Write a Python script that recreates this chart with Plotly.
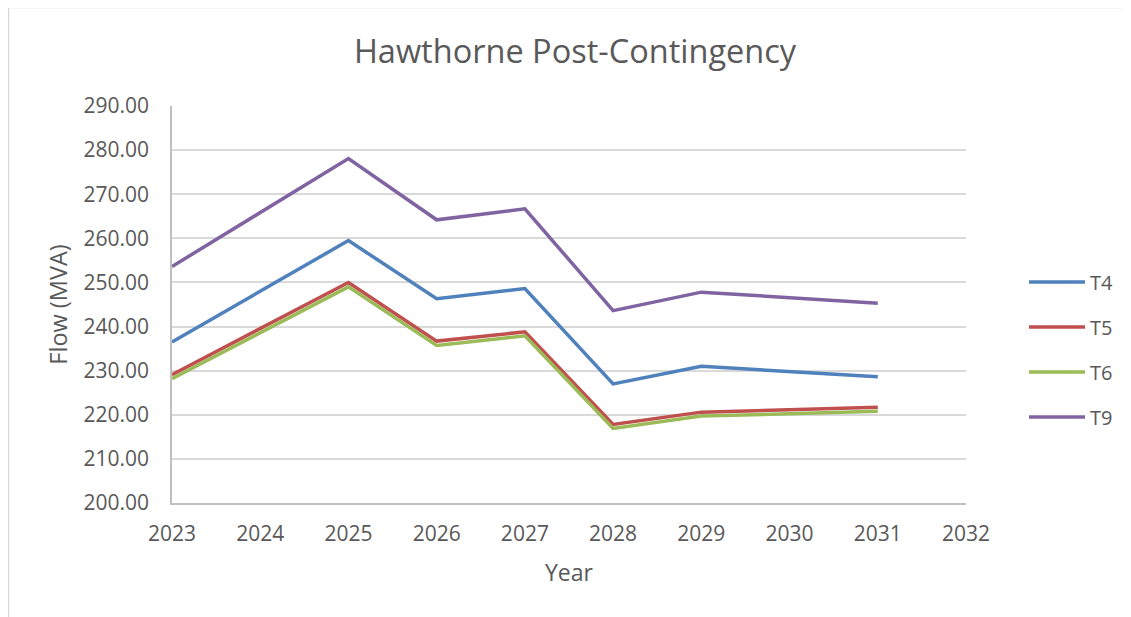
import plotly.graph_objects as go

years = [2023, 2025, 2026, 2027, 2028, 2029, 2031]
t4 = [236.5, 259.5, 246.3, 248.6, 227.0, 231.0, 228.6]
t5 = [229.1, 250.0, 236.7, 238.8, 217.8, 220.6, 221.7]
t6 = [228.2, 249.0, 235.7, 237.9, 216.9, 219.7, 220.8]
t9 = [253.6, 278.1, 264.2, 266.7, 243.6, 247.8, 245.3]

series = [("T4", t4, "#4F81BD"), ("T5", t5, "#C0504D"),
          ("T6", t6, "#9BBB59"), ("T9", t9, "#8064A2")]

FONT = "Open Sans"
GREY = "#595959"

fig = go.Figure()
for name, vals, col in series:
    fig.add_trace(go.Scatter(x=years, y=vals, name=name, mode="lines",
                             line=dict(color=col, width=3.5),
                             legendgroup=name))

# page body adds an 8px offset; work in figure coordinates
OFF = 8
W, H = 1131 - OFF, 617 - OFF
L, R, T, B = 172 - OFF, 966 - OFF, 106 - OFF, 503 - OFF

def px_x(x):
    return (x - OFF - L) / (R - L)

def px_y(y):
    return (B - (y - OFF)) / (B - T)

fig.update_layout(
    width=W, height=H,
    margin=dict(l=L, r=W - R, t=T, b=H - B),
    paper_bgcolor="white", plot_bgcolor="white",
    font=dict(family=FONT, color=GREY, size=21),
    title=dict(text="Hawthorne Post-Contingency", x=(575 - OFF) / W, xanchor="center",
               y=1 - (52 - OFF) / H, yanchor="middle", yref="container",
               font=dict(size=32.5, color=GREY, family=FONT)),
    showlegend=True,
    legend=dict(x=px_x(1024), xanchor="left", y=px_y(349.5),
                yanchor="middle", traceorder="grouped", tracegroupgap=16,
                font=dict(size=20, color=GREY, family=FONT), itemwidth=56,
                bgcolor="rgba(0,0,0,0)"),
    xaxis=dict(range=[2023, 2032], dtick=1, tick0=2023, showgrid=False,
               zeroline=False, showline=True, linecolor="#BFBFBF", linewidth=1.5,
               ticks="", tickfont=dict(size=21, color=GREY),
               ticklabelstandoff=11,
               title=dict(text="Year", font=dict(size=23, color=GREY), standoff=19)),
    yaxis=dict(range=[200, 290], dtick=10, tick0=200, tickformat=".2f",
               showgrid=True, gridcolor="#D9D9D9", gridwidth=1.5,
               zeroline=False, showline=True, linecolor="#BFBFBF", linewidth=1.5,
               ticks="", tickfont=dict(size=21, color=GREY),
               ticklabelstandoff=17,
               title=dict(text="Flow (MVA)", font=dict(size=23.5, color=GREY), standoff=9)),
    shapes=[dict(type="rect", xref="paper", yref="paper",
                 x0=px_x(8.5), x1=px_x(1160),
                 y0=px_y(660), y1=px_y(7.5),
                 line=dict(color="#D9D9D9", width=1.5), fillcolor="rgba(0,0,0,0)",
                 layer="below")],
)

fig.write_html("out.html")
